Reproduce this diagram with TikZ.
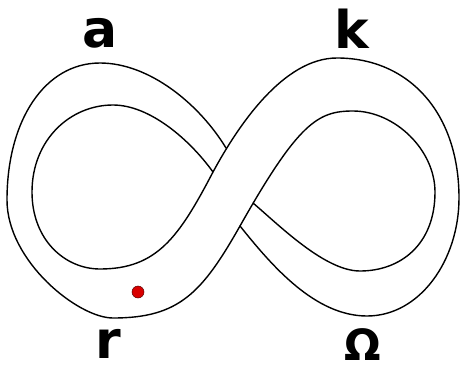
\documentclass[tikz,border=0pt]{standalone}
\usepackage{fontspec}
\newfontfamily\labelfont{DejaVu Sans}
\usepackage{tikz}

\begin{document}
\begin{tikzpicture}[x=1pt, y=-1pt]
        % Define styles for the band edges and the letters
        \tikzstyle{edge} = [line width=1.4pt, line join=round, line cap=round]
        \tikzstyle{letter} = [anchor=base, inner sep=0pt, font=\labelfont\bfseries\fontsize{52}{52}\selectfont]
        \tikzstyle{marker} = [fill=red!85!black, draw=red!35!black, line width=0.5pt]

        \useasboundingbox (0,0) rectangle (461,370);

        % Left outer loop, lower diagonal edge and right inner loop
        \draw [edge] (226,148) .. controls (200,105) and (150,63) .. (100,63)
            .. controls (45,63) and (7,120) .. (7,200)
            .. controls (7,261) and (78,318) .. (113,318)
            .. controls (179,318) and (202,293) .. (240,226)
            .. controls (298.5,122.5) and (318,111) .. (353,111)
            .. controls (395,111) and (435,150) .. (435,192)
            .. controls (435,245) and (400,271) .. (360,271)
            .. controls (325,271) and (280,226) .. (253,203);

        % Left inner loop, upper diagonal edge and right outer loop
        \draw [edge] (213,172) .. controls (190,140) and (150,105) .. (113,105)
            .. controls (70,105) and (32,140) .. (32,192)
            .. controls (32,240) and (65,269) .. (100,269)
            .. controls (157,269) and (179,237) .. (213,172)
            .. controls (239,124) and (284,58) .. (337,58)
            .. controls (409,58) and (459,113) .. (459,198)
            .. controls (459,260) and (420,316) .. (367,316)
            .. controls (315,316) and (272,266) .. (240,226);

        % Point on the band
        \fill [marker] (138,292) circle (6);

        % Letters
        \node (a) [letter] at (100,47) {a};
        \node (k) [letter] at (352,48) {k};
        \node (r) [letter] at (108,358) {r};
        \node (omega) [letter, font=\labelfont\bfseries\fontsize{43}{43}\selectfont] at (363,360) {Ω};
    \end{tikzpicture}
\end{document}
